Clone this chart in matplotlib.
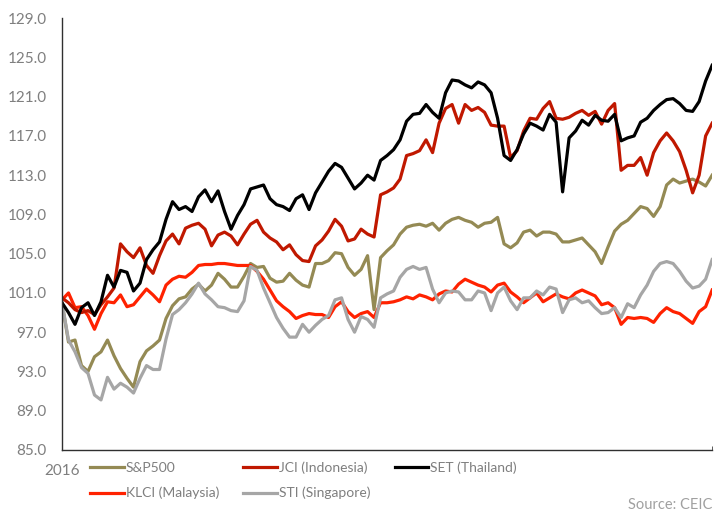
import matplotlib
matplotlib.use("Agg")
import matplotlib.pyplot as plt

plt.rcParams["font.family"] = ["Lato", "DejaVu Sans"]

# index levels, start of 2016 = 100
sp500 = [100.0, 96.0, 96.2, 93.6, 93.0, 94.5, 95.0, 96.2, 94.6, 93.3,
         92.3, 91.4, 94.0, 95.1, 95.6, 96.2, 98.4, 99.7, 100.4, 100.6,
         101.4, 101.9, 101.2, 101.8, 103.0, 102.4, 101.6, 101.6, 102.7, 104.0,
         103.6, 103.7, 102.5, 102.1, 102.2, 103.0, 102.3, 101.8, 101.6, 104.0,
         104.0, 104.3, 105.1, 105.0, 103.6, 102.8, 103.4, 104.8, 99.3, 104.6,
         105.3, 105.9, 107.0, 107.7, 107.9, 108.0, 107.8, 108.1, 107.4, 108.1,
         108.5, 108.7, 108.4, 108.2, 107.7, 108.1, 108.2, 108.7, 106.0, 105.6,
         106.1, 107.2, 107.4, 106.8, 107.2, 107.2, 107.0, 106.2, 106.2, 106.4,
         106.6, 105.9, 105.2, 104.0, 105.7, 107.3, 108.0, 108.4, 109.1, 109.8,
         109.6, 108.8, 109.8, 112.0, 112.6, 112.2, 112.4, 112.6, 112.3, 111.9,
         113.0]

jci = [100.5, 100.0, 99.3, 99.0, 99.2, 98.8, 99.8, 100.6, 101.5, 106.0,
       105.2, 104.6, 105.6, 103.8, 103.0, 104.8, 106.3, 107.0, 106.0, 107.6,
       107.9, 108.1, 107.5, 105.8, 106.9, 107.2, 106.8, 105.9, 107.0, 108.0,
       108.4, 107.2, 106.6, 106.2, 105.4, 105.9, 104.9, 104.3, 104.2, 105.8,
       106.4, 107.3, 108.5, 107.8, 106.3, 106.5, 107.5, 107.0, 106.7, 111.0,
       111.3, 111.7, 112.6, 115.0, 115.2, 115.5, 116.6, 115.3, 118.3, 119.8,
       120.2, 118.3, 120.2, 119.6, 119.9, 119.4, 118.1, 118.0, 118.0, 114.8,
       115.5, 117.5, 118.8, 118.7, 119.8, 120.5, 118.8, 118.7, 118.9, 119.3,
       119.6, 119.1, 119.5, 118.2, 119.6, 120.3, 113.5, 114.0, 114.0, 114.8,
       113.0, 115.3, 116.5, 117.3, 116.5, 115.4, 113.5, 111.2, 113.0, 117.0,
       118.3]

set_th = [100.0, 99.0, 97.8, 99.5, 100.0, 98.7, 100.1, 102.8, 101.6, 103.3,
          103.1, 101.2, 102.0, 104.4, 105.4, 106.2, 108.5, 110.3, 109.5, 109.8,
          109.3, 110.8, 111.5, 110.3, 111.4, 109.3, 107.5, 108.9, 110.0, 111.6,
          111.8, 112.0, 110.6, 110.0, 109.8, 109.4, 110.6, 111.0, 109.5, 111.2,
          112.3, 113.4, 114.2, 113.8, 112.7, 111.6, 112.2, 113.0, 112.5, 114.5,
          115.0, 115.6, 116.6, 118.5, 119.2, 119.3, 120.2, 119.4, 118.8, 121.4,
          122.7, 122.6, 122.2, 121.9, 122.5, 122.2, 121.4, 118.8, 115.0, 114.5,
          115.6, 117.2, 118.3, 118.0, 117.6, 119.2, 118.4, 111.3, 116.8, 117.5,
          118.6, 118.1, 119.1, 118.6, 118.5, 119.2, 116.5, 116.8, 117.0, 118.4,
          118.8, 119.6, 120.2, 120.7, 120.8, 120.3, 119.6, 119.5, 120.5, 122.6,
          124.2]

klci = [100.3, 101.0, 99.5, 99.6, 98.7, 97.3, 98.9, 100.1, 100.0, 100.8,
        99.6, 99.8, 100.6, 101.4, 100.8, 100.1, 101.8, 102.4, 102.7, 102.6,
        103.1, 103.8, 103.9, 103.9, 104.0, 104.0, 103.9, 103.8, 103.8, 103.8,
        103.2, 102.4, 101.3, 100.2, 99.6, 99.1, 98.4, 98.7, 98.9, 98.8,
        98.8, 98.5, 99.6, 100.1, 99.1, 98.5, 98.9, 99.1, 98.5, 100.0,
        100.0, 100.1, 100.3, 100.6, 100.4, 100.8, 100.6, 100.3, 100.9, 101.2,
        101.1, 101.9, 102.4, 102.1, 101.8, 101.6, 101.1, 101.8, 102.0, 101.1,
        100.6, 100.0, 100.5, 101.0, 100.1, 100.5, 100.9, 100.6, 100.4, 101.0,
        101.3, 101.0, 100.7, 99.8, 100.0, 99.5, 97.8, 98.5, 98.4, 98.5,
        98.4, 98.0, 98.9, 99.5, 99.1, 98.9, 98.4, 97.9, 99.1, 99.6,
        101.3]

sti = [100.0, 96.2, 95.0, 93.4, 92.8, 90.6, 90.1, 92.4, 91.2, 91.8,
       91.4, 90.8, 92.3, 93.6, 93.2, 93.2, 96.3, 98.8, 99.3, 100.0,
       100.9, 102.0, 100.9, 100.3, 99.6, 99.5, 99.2, 99.1, 100.2, 103.7,
       103.3, 101.5, 100.0, 98.5, 97.4, 96.5, 96.5, 97.8, 97.0, 97.7,
       98.3, 98.7, 100.3, 100.5, 98.3, 97.0, 98.6, 98.3, 97.5, 100.5,
       100.9, 101.2, 102.6, 103.4, 103.7, 103.4, 103.6, 101.4, 100.0, 101.0,
       101.2, 101.1, 100.3, 100.3, 101.2, 101.0, 99.2, 101.0, 101.6, 100.2,
       99.3, 100.5, 100.5, 101.2, 100.8, 101.6, 101.4, 99.0, 100.3, 100.5,
       100.0, 100.2, 99.5, 98.9, 99.0, 99.5, 98.5, 99.9, 99.5, 100.8,
       101.8, 103.2, 104.0, 104.2, 104.0, 103.2, 102.2, 101.5, 101.7, 102.4,
       104.4]

y_ticks = [85, 89, 93, 97, 101, 105, 109, 113, 117, 121, 125, 129]

fig = plt.figure(figsize=(7.26, 5.19), dpi=100)
ax = fig.add_axes([0.0854, 0.133, 0.8955, 0.832])

x = range(len(sp500))
lw = 2.3
ax.plot(x, sp500, color="#948A54", lw=lw, label="S&P500")
ax.plot(x, klci, color="#FF2200", lw=lw, label="KLCI (Malaysia)")
ax.plot(x, jci, color="#C01800", lw=lw, label="JCI (Indonesia)")
ax.plot(x, sti, color="#A6A6A6", lw=lw, label="STI (Singapore)")
ax.plot(x, set_th, color="#000000", lw=lw, label="SET (Thailand)")

ax.set_ylim(85, 129)
ax.set_xlim(0, len(sp500) - 1)
ax.set_yticks(y_ticks)
ax.set_yticklabels([f"{v:.1f}" for v in y_ticks])
ax.set_xticks([0])
ax.set_xticklabels(["2016"])
ax.set_xticks([len(sp500) - 1], minor=True)
ax.tick_params(axis="y", length=0, pad=11, labelsize=11, labelcolor="#7F7F7F")
ax.tick_params(axis="x", which="major", length=0, pad=10, labelsize=11, labelcolor="#7F7F7F")
ax.tick_params(axis="x", which="minor", direction="in", length=3, color="#404040")
for s in ["top", "right"]:
    ax.spines[s].set_visible(False)
for s in ["left", "bottom"]:
    ax.spines[s].set_color("#303030")
    ax.spines[s].set_linewidth(1.0)

leg = ax.legend(ncol=3, loc="upper left", bbox_to_anchor=(0.035, -0.013),
                frameon=False, fontsize=10, handlelength=2.4,
                handletextpad=0.15, columnspacing=1.75, labelspacing=0.95,
                borderaxespad=0)
for t in leg.get_texts():
    t.set_color("#7F7F7F")

fig.text(0.981, 0.013, "Source: CEIC", ha="right", va="bottom",
         fontsize=10.5, color="#A0A0A0")

fig.savefig("out.png", dpi=100)
